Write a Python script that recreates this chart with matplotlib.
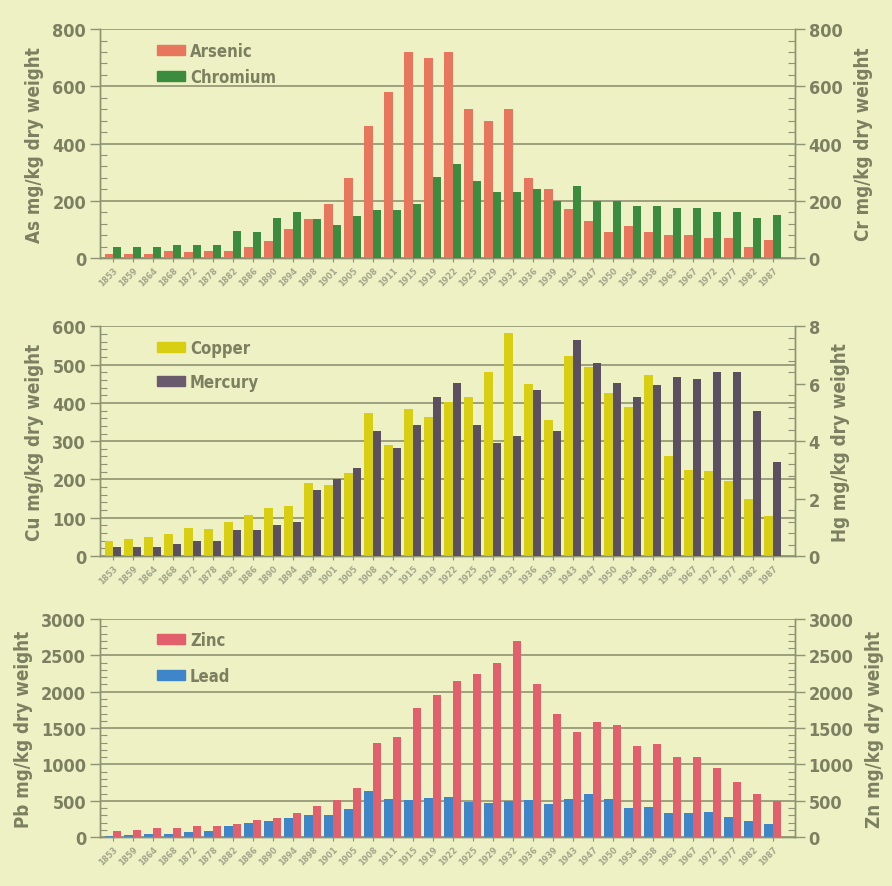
import matplotlib
matplotlib.use("Agg")
import matplotlib.pyplot as plt
import matplotlib.patches as mpatches
from matplotlib.ticker import MultipleLocator
from matplotlib import font_manager
import numpy as np

years = ["1853", "1859", "1864", "1868", "1872", "1878", "1882", "1886", "1890",
         "1894", "1898", "1901", "1905", "1908", "1911", "1915", "1919", "1922",
         "1925", "1929", "1932", "1936", "1939", "1943", "1947", "1950", "1954",
         "1958", "1963", "1967", "1972", "1977", "1982", "1987"]

arsenic = [15, 15, 15, 26, 21, 26, 26, 38, 58, 100, 138, 188, 280, 460, 580, 720,
           700, 720, 520, 480, 520, 280, 241, 170, 129, 91, 112, 91, 80, 80, 71,
           71, 39, 62]
chromium = [39, 39, 39, 45, 45, 45, 93, 91, 140, 160, 135, 114, 147, 167, 167, 188,
            282, 329, 268, 229, 229, 240, 200, 250, 200, 200, 182, 182, 176, 176,
            161, 161, 141, 150]

copper = [38, 44, 50, 58, 72, 70, 90, 108, 125, 130, 190, 186, 218, 373, 291, 385,
          364, 403, 416, 481, 583, 449, 354, 522, 494, 425, 389, 473, 261, 226,
          222, 196, 148, 105]
mercury = [0.3, 0.3, 0.3, 0.42, 0.52, 0.52, 0.9, 0.9, 1.07, 1.19, 2.3, 2.69, 3.07,
           4.36, 3.76, 4.57, 5.55, 6.02, 4.57, 3.94, 4.19, 5.78, 4.34, 7.54, 6.73,
           6.02, 5.55, 5.96, 6.22, 6.15, 6.42, 6.42, 5.06, 3.27]

lead = [20, 30, 40, 50, 70, 90, 160, 190, 220, 270, 310, 300, 390, 630, 520, 510,
        540, 550, 480, 470, 500, 510, 450, 520, 600, 530, 400, 420, 330, 330, 340,
        280, 220, 180]
zinc = [80, 100, 120, 120, 150, 160, 180, 240, 260, 330, 430, 510, 680, 1300, 1380,
        1780, 1960, 2150, 2250, 2400, 2700, 2100, 1700, 1450, 1580, 1540, 1250,
        1280, 1100, 1100, 950, 760, 600, 500]

BG = "#eef1c4"
TXT = "#7c8060"
GRID = "#8e9372"

# pick a narrow bold face if one is available
names = {f.name for f in font_manager.fontManager.ttflist}
if "Liberation Sans Narrow" in names:
    FONT = ["Liberation Sans Narrow", "DejaVu Sans"]
    STRETCH = "normal"
else:
    FONT = ["DejaVu Sans"]
    STRETCH = "condensed"

plt.rcParams["font.family"] = FONT
plt.rcParams["font.weight"] = "bold"
plt.rcParams["axes.labelweight"] = "bold"
plt.rcParams["font.stretch"] = STRETCH

fig = plt.figure(figsize=(8.92, 8.87), dpi=100, facecolor=BG)

x = np.arange(len(years))
w = 0.42


def style_axis(ax, ymax, major, minor):
    ax.set_ylim(0, ymax)
    ax.yaxis.set_major_locator(MultipleLocator(major))
    ax.yaxis.set_minor_locator(MultipleLocator(minor))
    ax.tick_params(axis="y", which="major", length=7, width=1.0, color=GRID,
                   labelsize=13, labelcolor=TXT, direction="out", pad=3)
    ax.tick_params(axis="y", which="minor", length=5, width=0.8, color=GRID,
                   direction="in")
    for s in ax.spines.values():
        s.set_color(GRID)
        s.set_linewidth(1.0)
    ax.spines["top"].set_visible(False)


def panel(rect, left_vals, right_vals, left_col, right_col,
          lmax, lmaj, lmin, rmax, rmaj, rmin, llabel, rlabel, entries, leg_gap):
    ax = fig.add_axes(rect)
    ax.set_facecolor(BG)
    ax2 = ax.twinx()
    ax.bar(x - w / 2, left_vals, w, color=left_col, zorder=3)
    ax2.bar(x + w / 2, right_vals, w, color=right_col, zorder=3)
    ax.set_xlim(-0.65, len(years) - 1 + 1.1)
    style_axis(ax, lmax, lmaj, lmin)
    style_axis(ax2, rmax, rmaj, rmin)
    ax.grid(axis="y", which="major", color=GRID, linewidth=1.2, zorder=0)
    ax.set_axisbelow(True)
    ax.set_xticks(x)
    ax.set_xticklabels(years, rotation=45, ha="right", rotation_mode="anchor",
                       fontsize=6.5, color="#a3a68a")
    ax.tick_params(axis="x", length=3, color=GRID, pad=2)
    ax.set_ylabel(llabel, fontsize=13.5, color=TXT, labelpad=6)
    ax2.set_ylabel(rlabel, fontsize=13.5, color=TXT, labelpad=8)
    handles = [mpatches.Patch(color=c, label=n) for c, n in entries]
    leg = ax.legend(handles=handles, loc="upper left",
                    bbox_to_anchor=(0.072, 0.975), frameon=False, fontsize=12,
                    handlelength=1.7, handleheight=0.55, handletextpad=0.3,
                    labelspacing=leg_gap, borderaxespad=0)
    for t in leg.get_texts():
        t.set_color(TXT)
    return ax, ax2


panel([0.112, 0.708, 0.779, 0.258], arsenic, chromium, "#e8765c", "#3b8c3f",
      800, 200, 40, 800, 200, 40,
      "As mg/kg dry weight", "Cr mg/kg dry weight",
      [("#e8765c", "Arsenic"), ("#3b8c3f", "Chromium")], 0.5)

panel([0.112, 0.372, 0.779, 0.259], copper, mercury, "#d8cf12", "#5b5060",
      600, 100, 20, 8, 2, 0.4,
      "Cu mg/kg dry weight", "Hg mg/kg dry weight",
      [("#d8cf12", "Copper"), ("#6a5a6e", "Mercury")], 0.95)

panel([0.112, 0.055, 0.779, 0.246], lead, zinc, "#3f85c9", "#e2606c",
      3000, 500, 100, 3000, 500, 100,
      "Pb mg/kg dry weight", "Zn mg/kg dry weight",
      [("#e2606c", "Zinc"), ("#3f85c9", "Lead")], 1.05)

fig.savefig("out.png", dpi=100, facecolor=BG)
